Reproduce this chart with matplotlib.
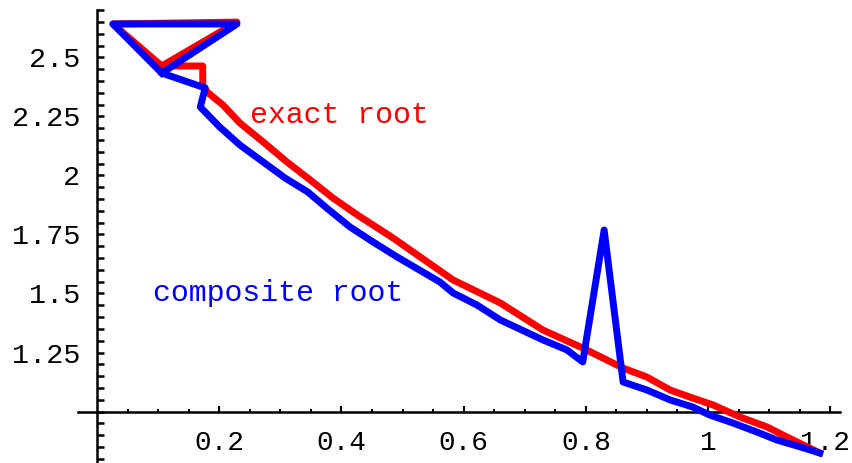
import matplotlib.pyplot as plt
import matplotlib.transforms as mtransforms
from matplotlib.ticker import FixedLocator

# exact root (red)
exact_x = [0.106, 0.026, 0.229, 0.106, 0.173, 0.173, 0.180, 0.206, 0.234, 0.272, 0.311,
           0.349, 0.386, 0.426, 0.484, 0.583, 0.660, 0.730, 0.795, 0.861, 0.900, 0.938,
           0.975, 1.008, 1.052, 1.097, 1.129, 1.180]
exact_y = [2.464, 2.642, 2.650, 2.464, 2.464, 2.383, 2.354, 2.299, 2.222, 2.142, 2.057,
           1.981, 1.905, 1.833, 1.736, 1.557, 1.460, 1.345, 1.269, 1.184, 1.146, 1.091,
           1.057, 1.028, 0.977, 0.934, 0.892, 0.828]

# composite root (blue)
comp_x = [0.106, 0.026, 0.229, 0.106, 0.177, 0.169, 0.201, 0.234, 0.272, 0.308, 0.345,
          0.376, 0.414, 0.452, 0.491, 0.561, 0.583, 0.622, 0.660, 0.730, 0.769, 0.795,
          0.830, 0.861, 0.900, 0.938, 0.975, 1.003, 1.041, 1.080, 1.113, 1.151, 1.183]
comp_y = [2.434, 2.642, 2.642, 2.434, 2.371, 2.290, 2.205, 2.129, 2.057, 1.989, 1.930,
          1.862, 1.782, 1.718, 1.655, 1.549, 1.502, 1.451, 1.388, 1.303, 1.261, 1.210,
          1.769, 1.125, 1.091, 1.049, 1.019, 0.985, 0.951, 0.913, 0.879, 0.850, 0.824]

x_ticks = [0.2, 0.4, 0.6, 0.8, 1.0, 1.2]
x_labels = ['0.2', '0.4', '0.6', '0.8', '1', '1.2']
y_ticks = [1.25, 1.5, 1.75, 2.0, 2.25, 2.5]
y_labels = ['1.25', '1.5', '1.75', '2', '2.25', '2.5']

plt.rcParams['font.family'] = ['Liberation Mono', 'DejaVu Sans']

fig = plt.figure(figsize=(8.53, 4.63), dpi=100)
ax = fig.add_axes([0, 0, 1, 1])

ax.plot(exact_x, exact_y, color='#ff0000', lw=5, solid_joinstyle='round', zorder=3)
ax.plot(comp_x, comp_y, color='#0000ff', lw=5, solid_joinstyle='round', zorder=4)

ax.text(0.396, 2.256, 'exact root', color='#ff0000', fontsize=21.5, ha='center', va='center')
ax.text(0.296, 1.502, 'composite root', color='#0000ff', fontsize=21.5, ha='center', va='center')

ax.set_xlim(-0.1588, 1.2373)
ax.set_ylim(0.7818, 2.7436)

for s in ['top', 'right']:
    ax.spines[s].set_visible(False)
ax.spines['left'].set_position(('data', 0))
ax.spines['bottom'].set_position(('data', 1))
ax.spines['left'].set_bounds(0.78, 2.70)
ax.spines['bottom'].set_bounds(-0.031, 1.216)
ax.spines['left'].set_linewidth(1.8)
ax.spines['bottom'].set_linewidth(1.8)

ax.xaxis.set_major_locator(FixedLocator(x_ticks))
ax.set_xticklabels(x_labels)
ax.xaxis.set_minor_locator(FixedLocator([0.05 * i for i in range(1, 25)]))
ax.yaxis.set_major_locator(FixedLocator(y_ticks))
ax.set_yticklabels(y_labels)
ax.yaxis.set_minor_locator(FixedLocator([0.80 + 0.05 * i for i in range(39)]))

ax.tick_params(axis='x', which='major', direction='in', length=4.5, width=1.5, pad=13, labelsize=20)
ax.tick_params(axis='x', which='minor', direction='in', length=2.5, width=1.5)
ax.tick_params(axis='y', which='major', direction='in', length=5, width=1.8, pad=12, labelsize=20.5)
ax.tick_params(axis='y', which='minor', direction='in', length=5, width=1.8)

# keep the last x label inside the picture
last = ax.get_xticklabels()[-1]
last.set_transform(last.get_transform() + mtransforms.ScaledTranslation(-4 / 72, 0, fig.dpi_scale_trans))

fig.savefig('out.png', dpi=100)
